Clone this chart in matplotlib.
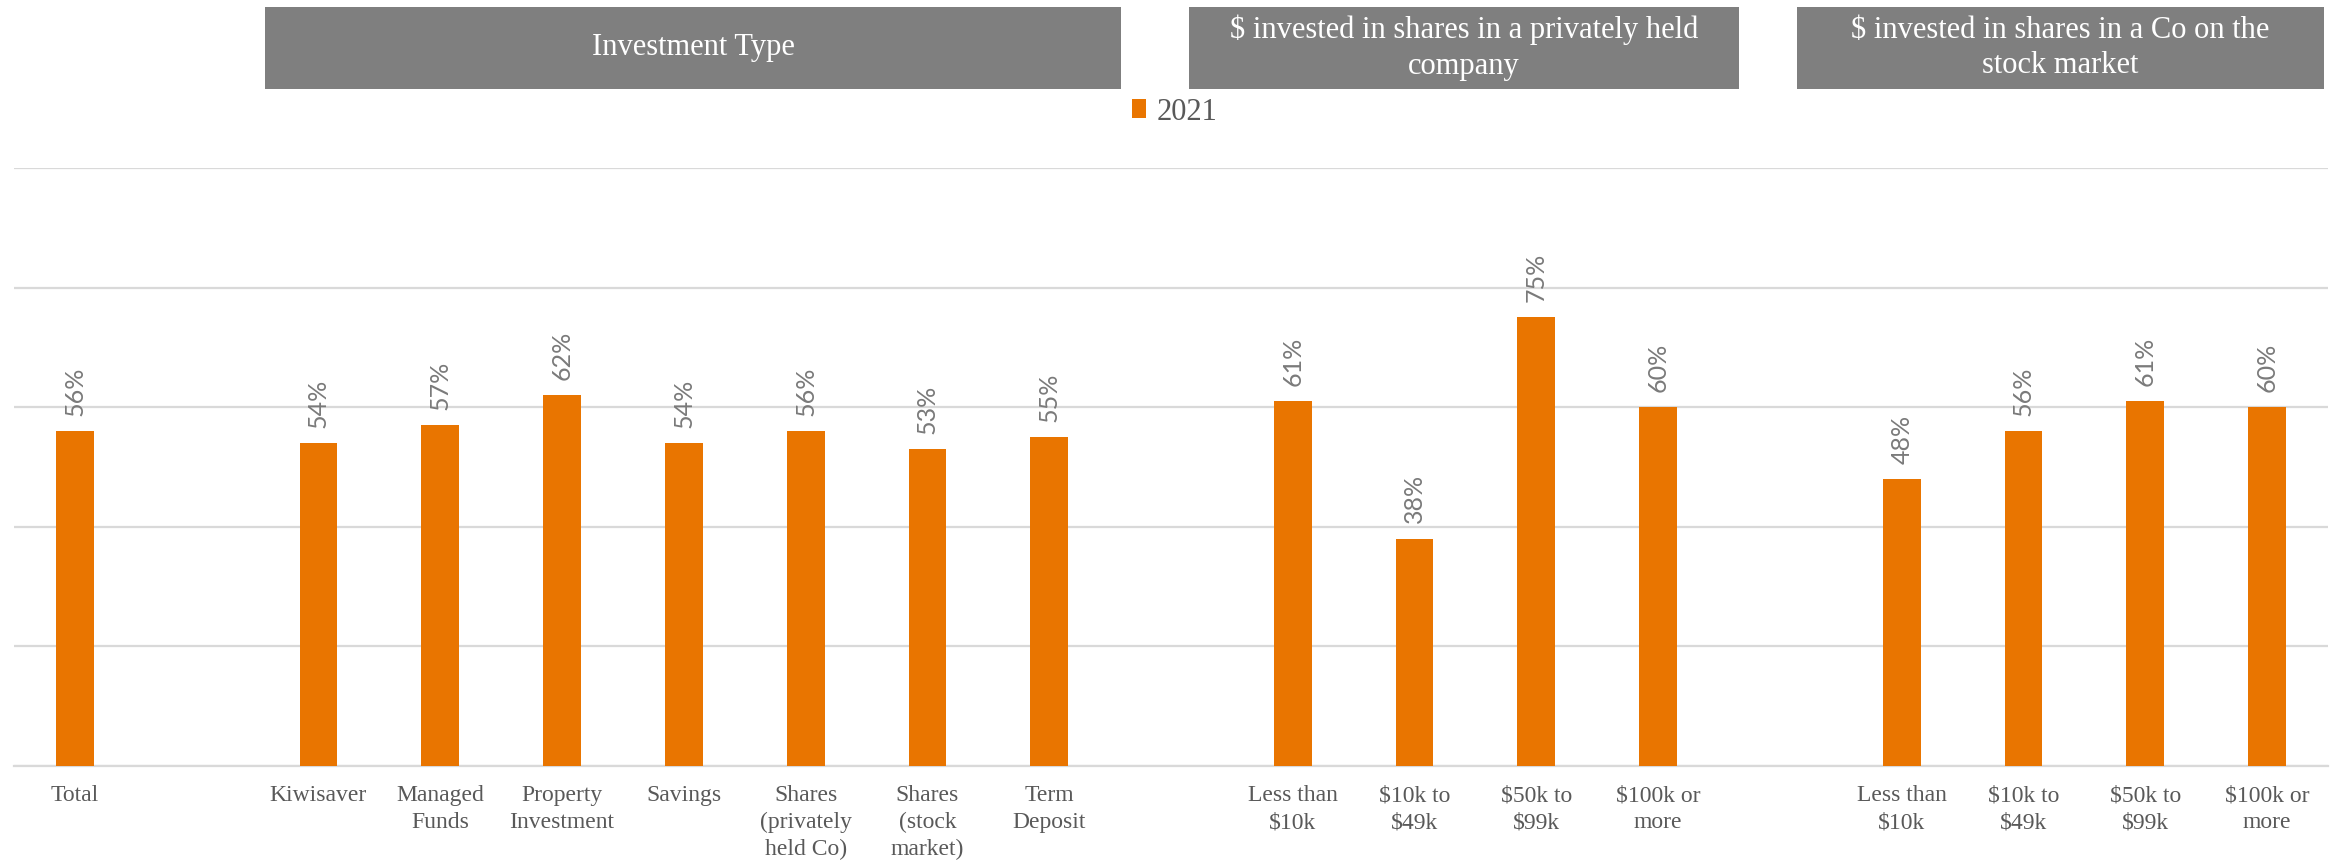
import matplotlib.pyplot as plt
from matplotlib.patches import Patch, Rectangle

plt.rcParams['text.parse_math'] = False

# Chart data
total_labels = ["Total"]
total_values = [56]

type_labels = ["Kiwisaver", "Managed\nFunds", "Property\nInvestment", "Savings",
               "Shares\n(privately\nheld Co)", "Shares\n(stock\nmarket)", "Term\nDeposit"]
type_values = [54, 57, 62, 54, 56, 53, 55]

band_labels = ["Less than\n$10k", "$10k to\n$49k", "$50k to\n$99k", "$100k or\nmore"]
private_values = [61, 38, 75, 60]
market_values = [48, 56, 61, 60]

header_texts = ["Investment Type",
                "$ invested in shares in a privately held\ncompany",
                "$ invested in shares in a Co on the\nstock market"]
series_name = "2021"

# Styles
ORANGE = '#E97500'
GRID = '#D9D9D9'
TEXT = '#595959'
LABEL = '#7A7A7A'
HEADER = '#7F7F7F'
SERIF = ['Liberation Serif', 'DejaVu Serif']
SANS = ['Lato', 'DejaVu Sans']

# Lay out the groups with one empty slot between them
groups = [(total_labels, total_values), (type_labels, type_values),
          (band_labels, private_values), (band_labels, market_values)]
labels, values, xs = [], [], []
pos = 0
for g_labels, g_values in groups:
    for lab, val in zip(g_labels, g_values):
        labels.append(lab)
        values.append(val / 100)
        xs.append(pos)
        pos += 1
    pos += 1
n_slots = pos - 1

W, H = 2336, 863
fig = plt.figure(figsize=(W / 100, H / 100), dpi=100)
ax = fig.add_axes([14 / W, 1 - 766 / H, (2328 - 14) / W, (766 - 168) / H])

ax.bar(xs, values, width=0.31, color=ORANGE, zorder=3)
for x, v in zip(xs, values):
    ax.annotate(f"{round(v * 100)}%", (x, v), xytext=(0, 11), textcoords='offset points',
                rotation=90, ha='center', va='bottom', fontsize=18,
                color=LABEL, family=SANS)

ax.set_xlim(-0.5, n_slots - 0.5)
ax.set_ylim(0, 1)
ax.set_yticks([0, 0.2, 0.4, 0.6, 0.8, 1.0])
ax.yaxis.grid(True, color=GRID, linewidth=1.6, zorder=0)
ax.tick_params(axis='y', left=False, labelleft=False)
ax.set_xticks(xs)
ax.set_xticklabels(labels, fontsize=17, color=TEXT, family=SERIF, linespacing=1.35)
ax.tick_params(axis='x', length=0, pad=14)
for side in ['top', 'right', 'left']:
    ax.spines[side].set_visible(False)
ax.spines['bottom'].set_color(GRID)
ax.spines['bottom'].set_linewidth(1.6)

# Grey section headers above the chart
boxes = [(265, 1121), (1189, 1739), (1797, 2324)]
top, bottom = 7, 89
for (x0, x1), txt in zip(boxes, header_texts):
    fig.add_artist(Rectangle((x0 / W, 1 - bottom / H), (x1 - x0) / W, (bottom - top) / H,
                             transform=fig.transFigure, facecolor=HEADER, edgecolor='none'))
    fig.text((x0 + x1) / 2 / W, 1 - (top + bottom) / 2 / H, txt, ha='center', va='center',
             color='white', fontsize=22, family=SERIF, linespacing=1.3)

fig.legend(handles=[Patch(facecolor=ORANGE, label=series_name)], loc='center left',
           bbox_to_anchor=(1117 / W, 1 - 112 / H), frameon=False, handlelength=0.45,
           handleheight=0.6, handletextpad=0.35, borderpad=0,
           prop={'family': SERIF, 'size': 22}, labelcolor=TEXT)

fig.savefig('out.png', dpi=100)
